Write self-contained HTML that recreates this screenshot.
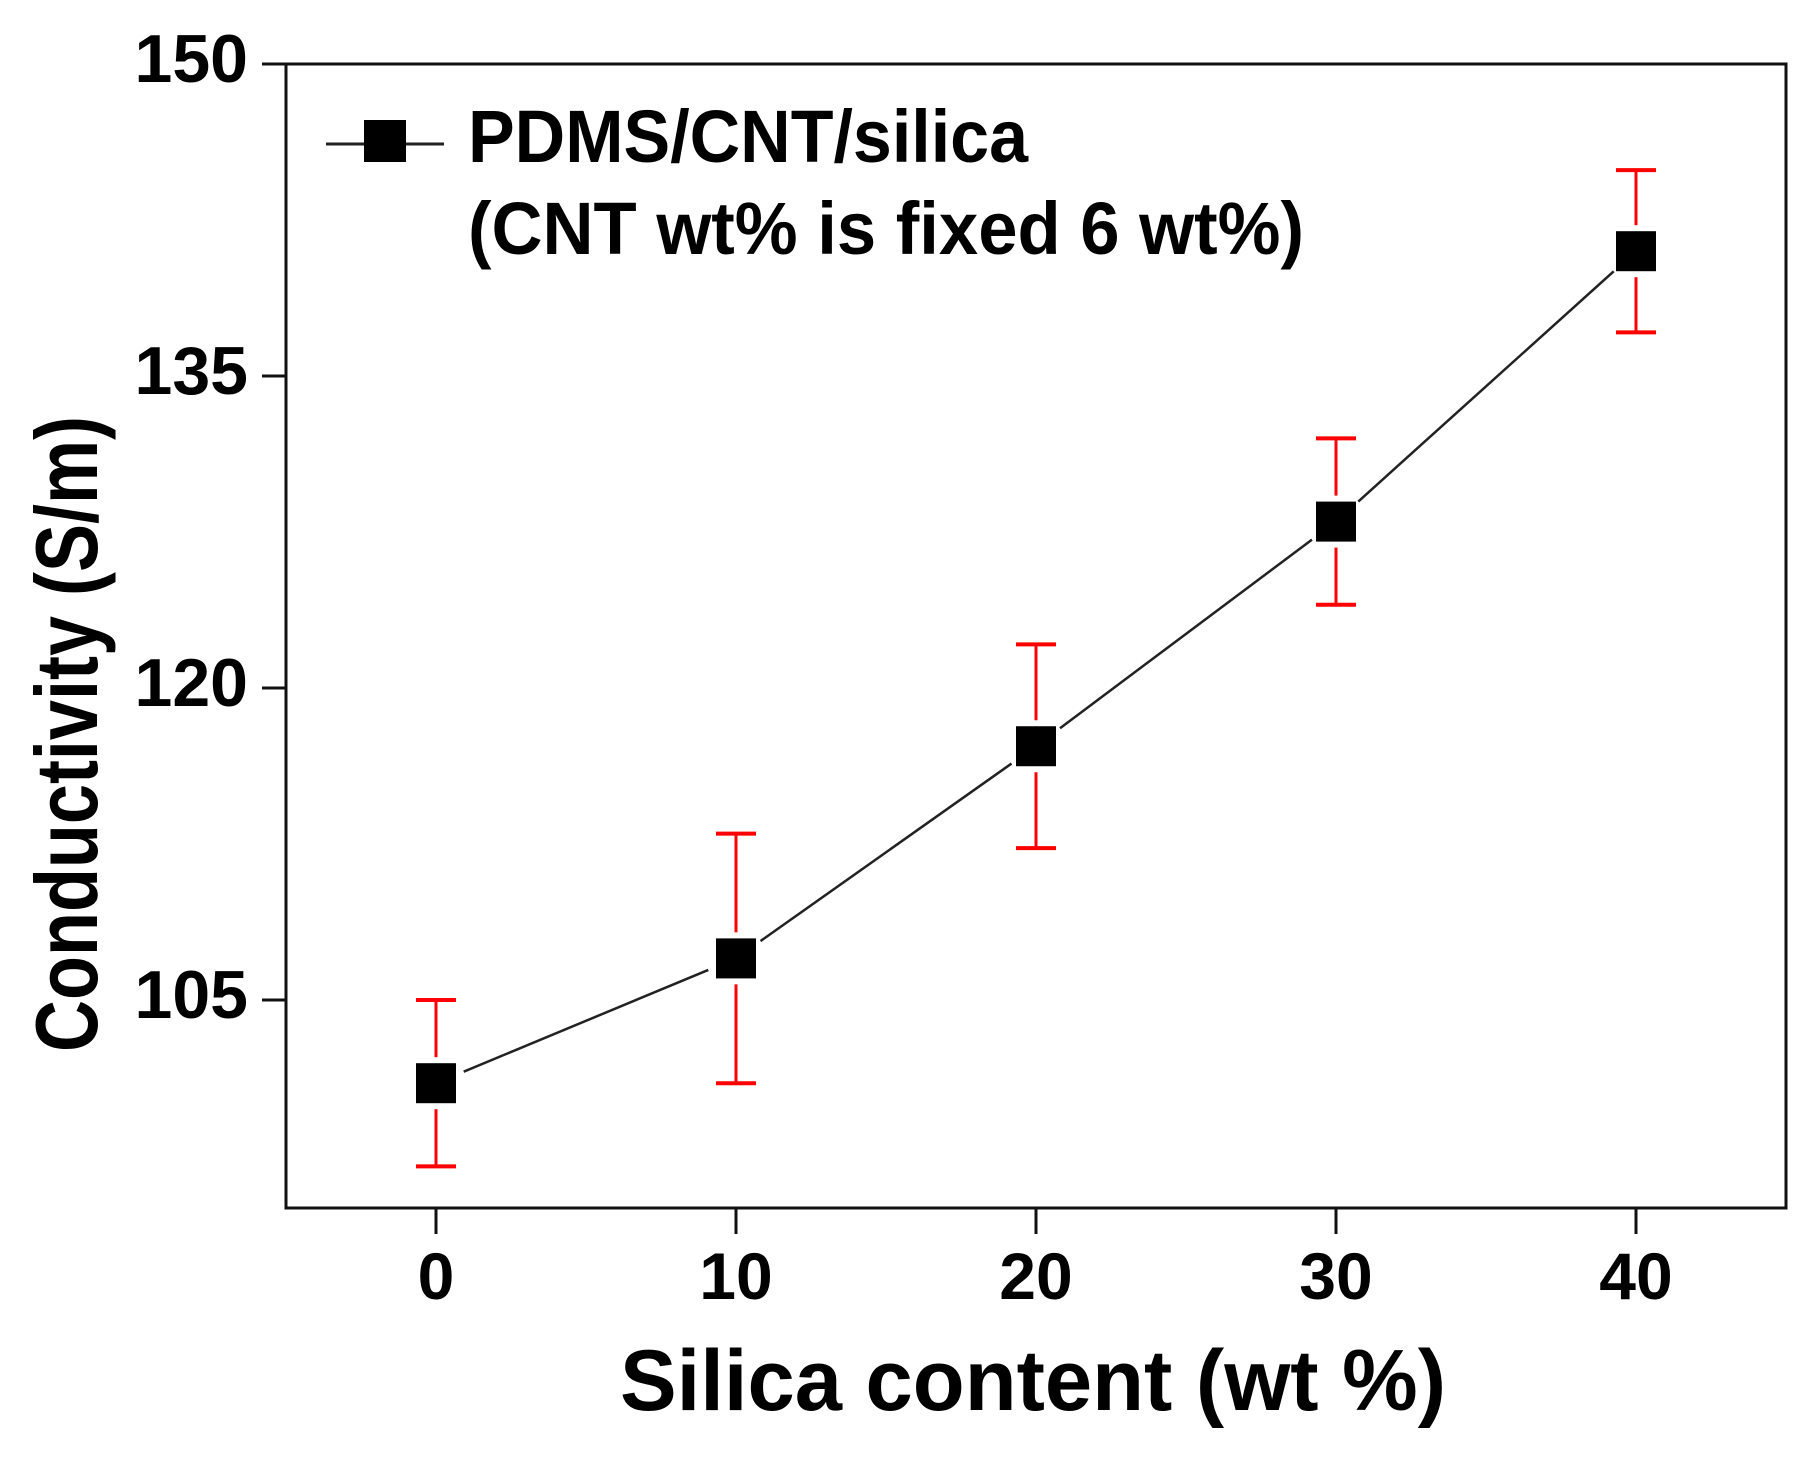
<!DOCTYPE html>
<html><head><meta charset="utf-8">
<style>
html,body{margin:0;padding:0;background:#fff;}
svg{display:block;}
text{font-family:"Liberation Sans",Arial,sans-serif;font-weight:bold;fill:#000;}
</style></head>
<body>
<svg id="chart" width="1813" height="1458" viewBox="0 0 1813 1458" xmlns="http://www.w3.org/2000/svg">
  <rect x="0" y="0" width="1813" height="1458" fill="#fff"/>
  <g id="grid-layer"></g>
  <rect x="286" y="64" width="1500" height="1144" fill="none" stroke="#111" stroke-width="3"/>
  <g id="axes"></g>
  <g id="series"></g>
  <g>
    <line x1="326" y1="144" x2="444" y2="144" stroke="#222" stroke-width="3"/>
    <rect x="364" y="120" width="42" height="42" fill="#000"/>
    <text x="468" y="162" font-size="74" textLength="560" lengthAdjust="spacingAndGlyphs">PDMS/CNT/silica</text>
    <text x="468" y="254" font-size="74" textLength="836" lengthAdjust="spacingAndGlyphs">(CNT wt% is fixed 6 wt%)</text>
  </g>
  <text x="1033" y="1410" font-size="86" text-anchor="middle" textLength="826" lengthAdjust="spacingAndGlyphs">Silica content (wt %)</text>
  <text transform="translate(97,734) rotate(-90)" font-size="88" text-anchor="middle" textLength="636" lengthAdjust="spacingAndGlyphs">Conductivity (S/m)</text>
</svg>
<script>
const categories = [0, 10, 20, 30, 40];
const conductivity = [101, 107, 117.2, 128, 141];
const errorValues = [4, 6, 4.9, 4, 3.9];
const yTickLabels = ["105", "120", "135", "150"];
const xTickLabels = ["0", "10", "20", "30", "40"];

const X0 = 286, X1 = 1786, Y0 = 1208, Y1 = 64;
const xMin = -5, xMax = 45, yMin = 95, yMax = 150;
function xs(v){ return X0 + (v - xMin) / (xMax - xMin) * (X1 - X0); }
function ys(v){ return Y0 - (v - yMin) / (yMax - yMin) * (Y0 - Y1); }
const NS = "http://www.w3.org/2000/svg";
function mk(tag, attrs, parent){ const e = document.createElementNS(NS, tag); for (const k in attrs) e.setAttribute(k, attrs[k]); parent.appendChild(e); return e; }

const axes = document.getElementById('axes');
yTickLabels.forEach(function(t){
  const y = ys(parseFloat(t));
  const tk = mk('line', {x1: X0 - 24, y1: y, x2: X0, y2: y, stroke: '#111', 'stroke-width': 3}, axes);
  
  
  const lb = mk('text', {x: 248, y: y + 18, 'font-size': 68, 'text-anchor': 'end'}, axes);
  lb.textContent = t;
  
  
});
xTickLabels.forEach(function(t){
  const x = xs(parseFloat(t));
  const tk = mk('line', {x1: x, y1: Y0, x2: x, y2: Y0 + 26, stroke: '#111', 'stroke-width': 3}, axes);
  
  
  const lb = mk('text', {x: x, y: 1299, 'font-size': 66, 'text-anchor': 'middle'}, axes);
  lb.textContent = t;
  
  
});

const series = document.getElementById('series');
const half = 20, gap = 10;
for (let i = 0; i < categories.length - 1; i++) {
  const ax = xs(categories[i]), ay = ys(conductivity[i]);
  const bx = xs(categories[i+1]), by = ys(conductivity[i+1]);
  const dx = bx - ax, dy = by - ay, L = Math.hypot(dx, dy);
  const ux = dx / L, uy = dy / L, off = half + gap;
  const seg = mk('line', {x1: ax + ux*off, y1: ay + uy*off, x2: bx - ux*off, y2: by - uy*off, stroke: '#222', 'stroke-width': 2.5}, series);
  
  
}
categories.forEach(function(c, i){
  const x = xs(c), y = ys(conductivity[i]);
  const top = ys(conductivity[i] + errorValues[i]);
  const bot = ys(conductivity[i] - errorValues[i]);
  const g = mk('g', {}, series);
  
  
  mk('line', {x1: x, y1: top, x2: x, y2: y - half - 6, stroke: '#f00', 'stroke-width': 3}, g);
  mk('line', {x1: x, y1: bot, x2: x, y2: y + half + 6, stroke: '#f00', 'stroke-width': 3}, g);
  mk('line', {x1: x - 20, y1: top, x2: x + 20, y2: top, stroke: '#f00', 'stroke-width': 4}, g);
  mk('line', {x1: x - 20, y1: bot, x2: x + 20, y2: bot, stroke: '#f00', 'stroke-width': 4}, g);
  const m = mk('rect', {x: x - half, y: y - half, width: half*2, height: half*2, fill: '#000'}, series);
  
  
});
</script>
</body></html>
